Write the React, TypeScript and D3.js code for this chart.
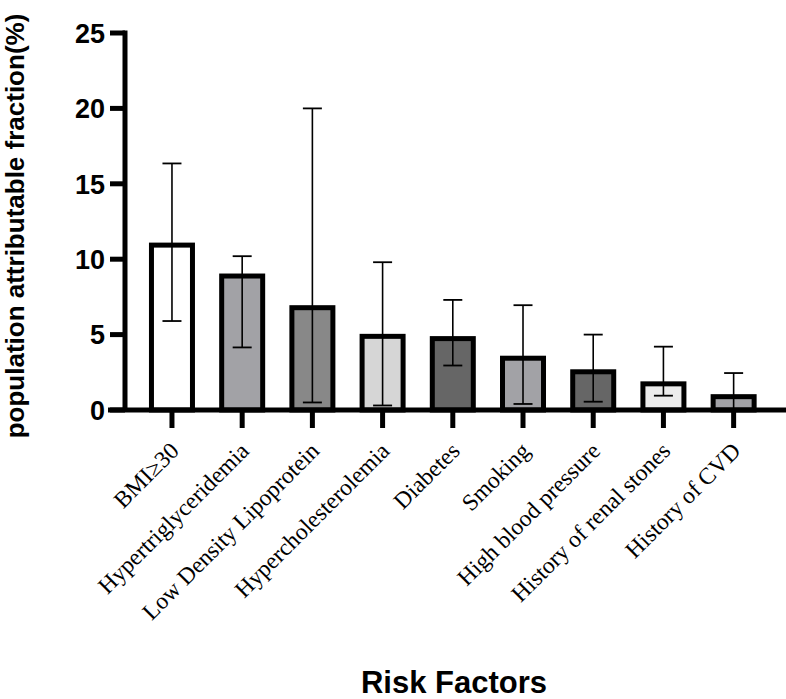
import React, { useRef, useEffect } from 'react';
import * as d3 from 'd3';

const factors = [
  'BMI\u226530',
  'Hypertriglyceridemia',
  'Low Density Lipoprotein',
  'Hypercholesterolemia',
  'Diabetes',
  'Smoking',
  'High blood pressure',
  'History of renal stones',
  'History of CVD',
];
const paf = [11.1, 9.05, 6.95, 5.05, 4.9, 3.6, 2.7, 1.9, 1.05];
const lower = [5.9, 4.15, 0.5, 0.3, 2.95, 0.4, 0.55, 0.95, 0];
const upper = [16.35, 10.2, 20.0, 9.8, 7.3, 6.95, 5.0, 4.2, 2.45];
const fills = ['#ffffff', '#a2a2a6', '#888888', '#d6d6d6', '#666666', '#a2a2a6', '#666666', '#ececec', '#a2a2a6'];
const yTicks = [0, 5, 10, 15, 20, 25];

const App: React.FC = () => {
  const svgRef = useRef<SVGSVGElement | null>(null);

  useEffect(() => {
    const width = 786;
    const height = 699;
    const svg = d3.select(svgRef.current).attr('width', width).attr('height', height);
    svg.selectAll('*').remove();

    const y = d3.scaleLinear().domain([0, 25]).range([410, 33]);
    const x = d3
      .scaleBand<string>()
      .domain(factors)
      .range([125, 780.6])
      .paddingInner(0.416)
      .paddingOuter(0.377);

    const g = svg.append('g');
    const bw = x.bandwidth();

    // bars
    g.selectAll('rect.bar')
      .data(factors)
      .enter()
      .append('rect')
      .attr('class', 'bar')
      .attr('x', d => x(d)!)
      .attr('y', (d, i) => y(paf[i]) + 2.5)
      .attr('width', bw)
      .attr('height', (d, i) => y(0) - y(paf[i]) - 2.5)
      .attr('fill', (d, i) => fills[i])
      .attr('stroke', '#000')
      .attr('stroke-width', 5);

    // error bars
    const cap = 9.5;
    factors.forEach((f, i) => {
      const cx = x(f)! + bw / 2;
      g.append('line')
        .attr('x1', cx).attr('x2', cx)
        .attr('y1', y(lower[i])).attr('y2', y(upper[i]))
        .attr('stroke', '#000').attr('stroke-width', 1.6);
      [lower[i], upper[i]].forEach(v => {
        g.append('line')
          .attr('x1', cx - cap).attr('x2', cx + cap)
          .attr('y1', y(v)).attr('y2', y(v))
          .attr('stroke', '#000').attr('stroke-width', 1.8);
      });
    });

    // x axis line and ticks
    g.append('line')
      .attr('x1', 108).attr('x2', 786)
      .attr('y1', y(0)).attr('y2', y(0))
      .attr('stroke', '#000').attr('stroke-width', 5);
    factors.forEach(f => {
      const cx = x(f)! + bw / 2;
      g.append('line')
        .attr('x1', cx).attr('x2', cx)
        .attr('y1', y(0)).attr('y2', y(0) + 18)
        .attr('stroke', '#000').attr('stroke-width', 5);
      g.append('text')
        .attr('transform', `translate(${cx - 3},${441}) rotate(-45)`)
        .attr('text-anchor', 'end')
        .attr('dy', '0.68em')
        .attr('font-family', '"Liberation Serif", "Times New Roman", serif')
        .attr('font-size', 23.5)
        .text(f);
    });

    // y axis
    g.append('line')
      .attr('x1', 125).attr('x2', 125)
      .attr('y1', y(25) - 2.5).attr('y2', y(0))
      .attr('stroke', '#000').attr('stroke-width', 5);
    yTicks.forEach(t => {
      g.append('line')
        .attr('x1', 110).attr('x2', 125)
        .attr('y1', y(t)).attr('y2', y(t))
        .attr('stroke', '#000').attr('stroke-width', 5);
      g.append('text')
        .attr('x', 105)
        .attr('y', y(t))
        .attr('dy', '0.36em')
        .attr('text-anchor', 'end')
        .attr('font-family', '"Liberation Sans", Arial, sans-serif')
        .attr('font-weight', 'bold')
        .attr('font-size', 27)
        .text(t);
    });

    // titles
    svg.append('text')
      .attr('transform', `translate(24,${226}) rotate(-90)`)
      .attr('text-anchor', 'middle')
      .attr('font-family', '"Liberation Sans", Arial, sans-serif')
      .attr('font-weight', 'bold')
      .attr('font-size', 26)
      .text('population attributable fraction(%)');

    svg.append('text')
      .attr('x', 454)
      .attr('y', 693)
      .attr('text-anchor', 'middle')
      .attr('font-family', '"Liberation Sans", Arial, sans-serif')
      .attr('font-weight', 'bold')
      .attr('font-size', 31)
      .text('Risk Factors');
  }, []);

  return <svg ref={svgRef} style={{ display: 'block', position: 'absolute', left: 0, top: 0 }}></svg>;
};

export default App;
